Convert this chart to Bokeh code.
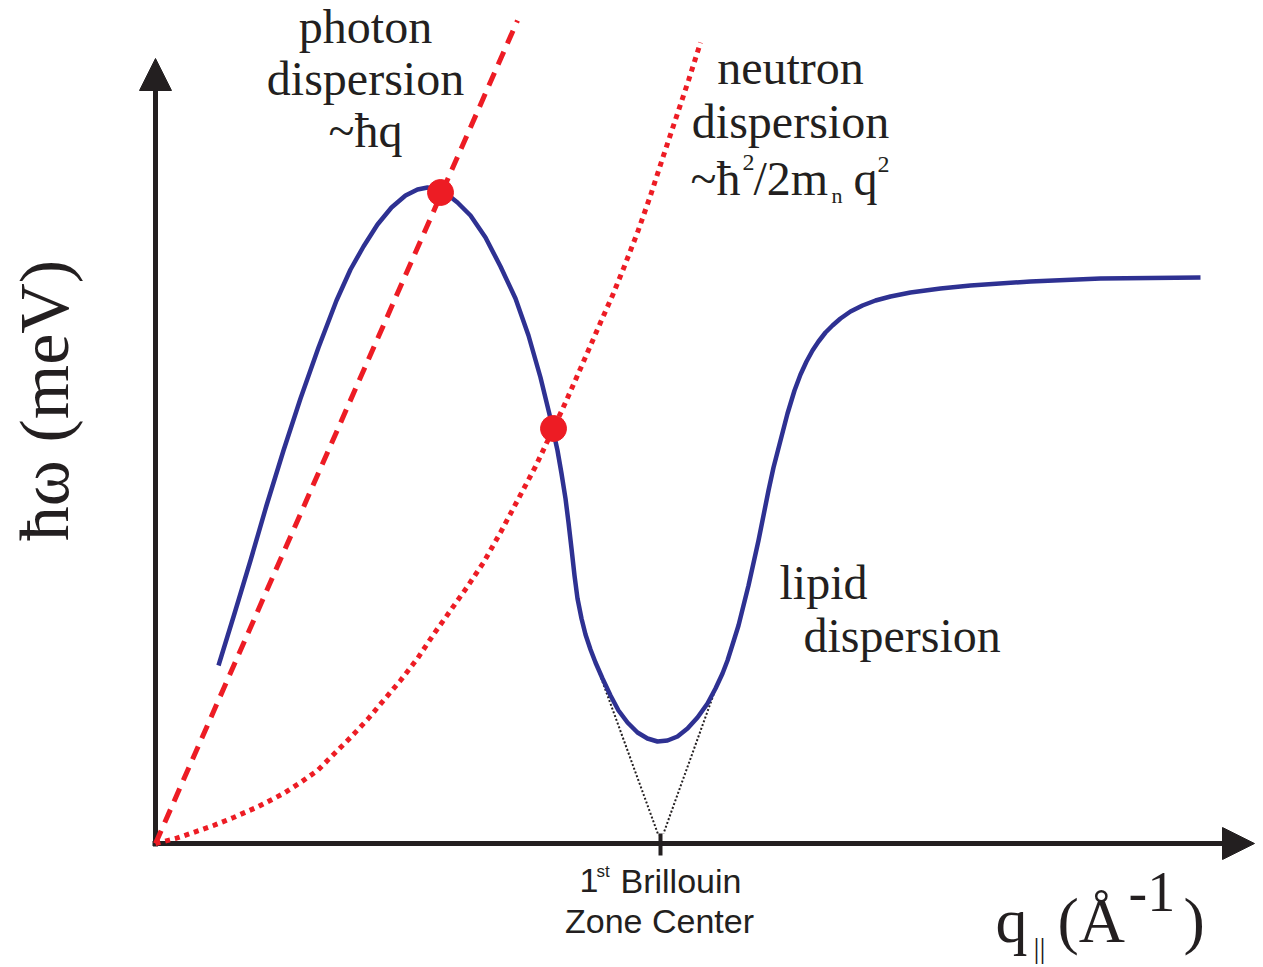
import numpy as np
from bokeh.plotting import figure
from bokeh.models import Range1d, Arrow, NormalHead
from bokeh.core.properties import value
from bokeh.embed import file_html
from bokeh.resources import INLINE

# ---------------- data (arbitrary units, origin at the axes corner) ----------------
lipid_q = [63, 79, 95, 111, 128, 145, 163, 181, 195, 208, 222, 236, 250, 262, 272, 282,
           292, 302, 315, 330, 345, 360, 373, 385, 395, 402, 406, 410, 413, 416, 419, 422,
           426, 430, 435, 440, 447, 455, 463, 472, 482, 492, 502, 512, 522, 532, 542, 552,
           560, 567, 572, 578, 583, 593, 603, 613, 618, 625, 632, 639, 645, 651, 657, 663,
           670, 677, 685, 695, 707, 720, 735, 755, 785, 815, 875, 945, 1045]
lipid_E = [178, 230, 283, 338, 393, 445, 496, 543, 574, 597, 619, 636, 648, 654, 656, 654,
           649, 641, 628, 606, 577, 545, 508, 466, 425, 393, 370, 345, 321, 295, 268, 245,
           225, 209, 194, 181, 165, 148, 133, 121, 111, 105, 102, 103, 107, 115, 126, 140,
           155, 170, 183, 202, 218, 258, 303, 353, 376, 403, 430, 453, 469, 482, 493, 502,
           511, 518, 525, 532, 538, 543, 547, 551, 555, 558, 562, 565, 566]

neutron_q = [0, 20, 38, 58, 78, 103, 128, 145, 162, 178, 195, 212, 228, 245, 262, 278, 295,
             312, 328, 345, 362, 380, 398, 410, 425, 445, 457, 468, 482, 495, 507, 520, 533, 545]
neutron_E = [0, 5, 11, 18, 26, 37, 50, 61, 73, 89, 106, 124, 143, 163, 185, 209, 233,
             257, 281, 311, 343, 377, 415, 441, 475, 521, 548, 575, 611, 648, 685, 724, 763, 801]

photon_q = [0, 362]
photon_E = [0, 823]

crossing_q = [285, 398]
crossing_E = [651, 415]

bz_center_q = 505
tangent_left_q = [440, 503]
tangent_left_E = [181, 8]
tangent_right_q = [561, 508]
tangent_right_E = [157, 10]

q_axis_end = 1099
E_axis_end = 785

photon_label = ["photon", "dispersion", "~ħq"]
neutron_label = ["neutron", "dispersion"]
lipid_label = ["lipid", "dispersion"]

BLUE = "#2e3192"
RED = "#ed1c24"
INK = "#231f20"
SERIF = value("Liberation Serif")
SANS = value("Liberation Sans")
BASE_SHIFT = 0.37  # compensates the renderer's alphabetic-baseline offset (fraction of em)

p = figure(width=1263, height=967, x_range=Range1d(-155, 1108), y_range=Range1d(-124, 843),
           output_backend="svg", toolbar_location=None, min_border=0,
           x_axis_type=None, y_axis_type=None)
p.outline_line_color = None
p.background_fill_color = "white"

# axes with arrows
for xs, ys, xe, ye in [(0, -3, 0, E_axis_end), (-3, 0, q_axis_end, 0)]:
    p.add_layout(Arrow(end=NormalHead(size=32, fill_color=INK, line_color=INK, line_width=1),
                       x_start=xs, y_start=ys, x_end=xe, y_end=ye,
                       line_color=INK, line_width=5, level="underlay"))

# Brillouin zone tick
p.segment(x0=[bz_center_q], y0=[-12], x1=[bz_center_q], y1=[10], line_color=INK, line_width=4)

# dotted tangents near zone center
p.line(tangent_left_q, tangent_left_E, line_color=INK, line_width=2, line_dash="2 2")
p.line(tangent_right_q, tangent_right_E, line_color=INK, line_width=2, line_dash="2 2")

# neutron (dotted) and photon (dashed)
p.line(neutron_q, neutron_E, line_color=RED, line_width=5, line_dash="5 5")
p.line(photon_q, photon_E, line_color=RED, line_width=5, line_dash="14 9")

# lipid dispersion
p.line(lipid_q, lipid_E, line_color=BLUE, line_width=4.5, line_join="round")

# crossings
p.scatter(crossing_q, crossing_E, size=26, fill_color=RED, line_color=RED)

# ---------------- texts ----------------
def txt(x, y, t, size, font=SERIF, align="left", angle=0.0):
    shift = BASE_SHIFT * size
    if angle:
        x = x - shift
    else:
        y = y + shift
    p.text(x=[x], y=[y], text=[t], text_font=font, text_font_size=f"{size}px",
           text_align=align, text_baseline="alphabetic", text_color=INK, angle=angle)

for t, yb in zip(photon_label, [799, 747, 695]):
    txt(210, yb, t, 48, align="center")
for t, yb in zip(neutron_label, [758, 704]):
    txt(635, yb, t, 48, align="center")
txt(535, 647, "~ħ", 48)
txt(587, 672, "2", 24)
txt(598, 647, "/2m", 48)
txt(676, 640, "n", 22)
txt(698, 647, "q", 48)
txt(722, 670, "2", 24)

txt(624, 243, lipid_label[0], 48)
txt(648, 190, lipid_label[1], 48)

# y label
txt(-85, 443, "ħω (meV)", 70, align="center", angle=np.pi / 2)

# x label
txt(840, -101, "q", 64)
txt(878, -115, "||", 30)
txt(902, -101, "(Å", 64)
txt(973, -69, "-1", 56)
txt(1028, -101, ")", 64)

# Brillouin zone label
txt(424, -50, "1", 34, font=SANS)
txt(441, -34, "st", 17, font=SANS)
txt(465, -50, "Brillouin", 34, font=SANS)
txt(504, -90, "Zone Center", 34, font=SANS, align="center")

open("out.html", "w").write(file_html(p, INLINE))
